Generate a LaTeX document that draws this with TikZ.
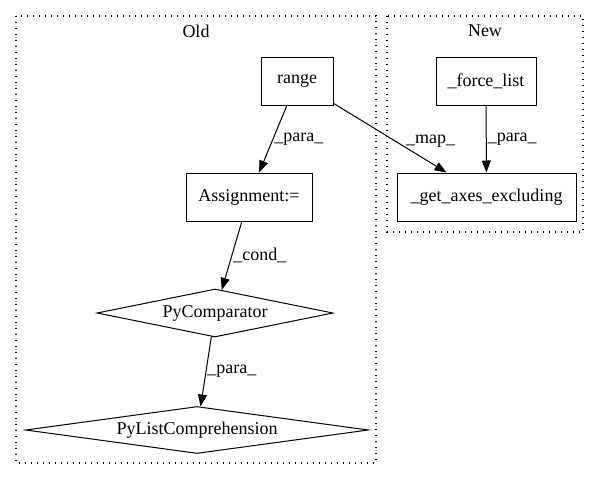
\documentclass[tikz,border=0pt]{standalone}
\usepackage{fontspec}
\setmainfont{Liberation Serif}
\usetikzlibrary{arrows.meta,shapes.geometric}

\begin{document}
\begin{tikzpicture}[->,>={Triangle[length=12pt,width=9pt]},x=1pt,y=-1pt,
                    line width=1pt]
  \tikzstyle{every node}=[font=\fontsize{18}{20}\selectfont]
  \tikzstyle{box}=[draw,rectangle,minimum height=48pt,inner sep=0pt]
  \tikzstyle{dia}=[draw,diamond,inner sep=0pt]
  \tikzstyle{lbl}=[anchor=west,inner sep=1pt]
  \tikzstyle{cluster}=[-,line width=1.3pt,dash pattern=on 1.3pt off 4.7pt]
\useasboundingbox (0,0) rectangle (600,480);

\draw [cluster] (16,16) rectangle (376,463);
\draw [cluster] (387,16) rectangle (583,232);
\node (old) at (196,31) {Old};
\node (new) at (485,31) {New};

\node [box,minimum width=72pt] (range) at (297,81) {range};
\node [box,minimum width=126pt] (assign) at (249,197) {Assignment:=};
\node [dia,shape aspect=4.9,minimum width=236pt,minimum height=48pt] (comp) at (215,313) {PyComparator};
\node [dia,shape aspect=7.3,minimum width=343pt,minimum height=47pt] (list) at (197,430) {PyListComprehension};
\node [box,minimum width=100pt] (force) at (486,81) {\_force\_list};
\node [box,minimum width=179pt] (axes) at (486.5,197) {\_get\_axes\_excluding};

\path (range) edge node [lbl] {\_para\_} (assign);
\path (range) edge node [lbl,pos=0.55,xshift=9pt] {\_map\_} (axes);
\path (force) edge node [lbl] {\_para\_} (axes);
\path (assign) edge node [lbl] {\_cond\_} (comp);
\path (comp) edge node [lbl] {\_para\_} (list);

\end{tikzpicture}
\end{document}
